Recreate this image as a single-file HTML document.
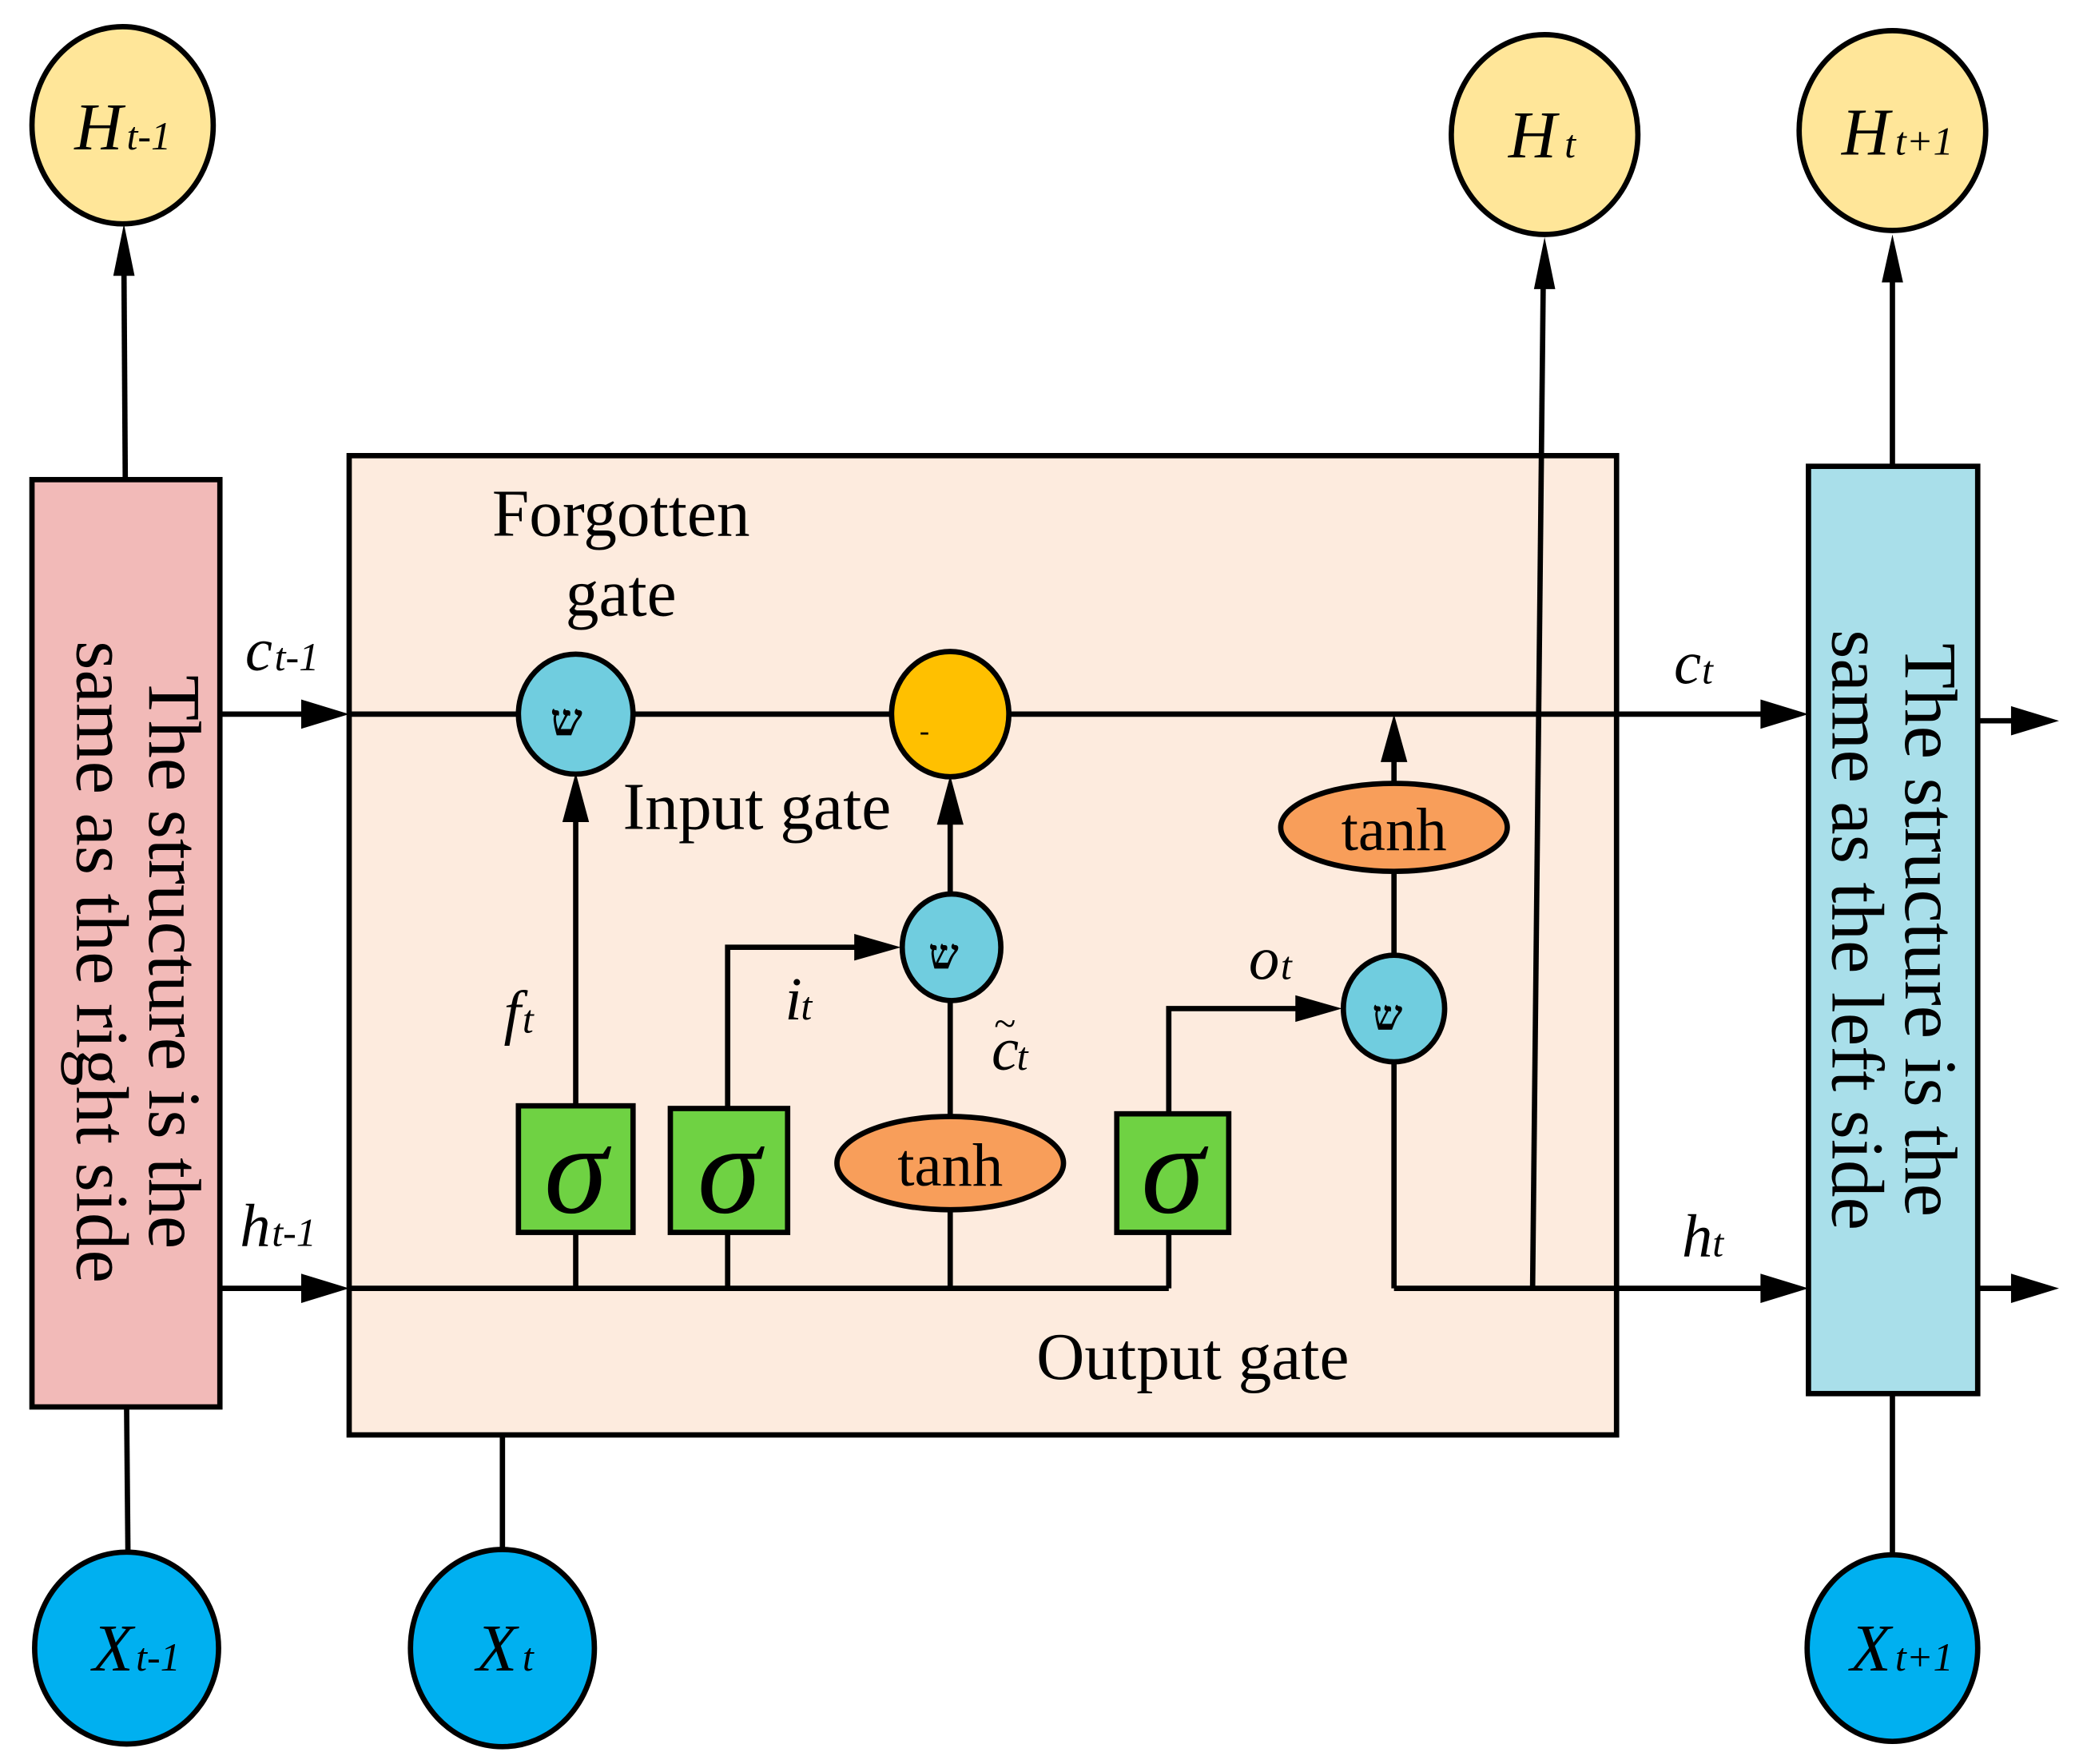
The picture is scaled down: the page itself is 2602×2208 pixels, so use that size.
<!DOCTYPE html>
<html><head><meta charset="utf-8"><style>
html,body{margin:0;padding:0;background:#fff;}
svg{display:block;}
text{font-family:"Liberation Serif",serif;fill:#000;}
.i{font-style:italic;}
</style></head><body>
<svg width="2602" height="2208" viewBox="0 0 1560 1324" preserveAspectRatio="none" xmlns="http://www.w3.org/2000/svg">
<g stroke="#000" stroke-width="4" fill="none">
<rect x="262" y="342" width="951" height="735" fill="#FDEBDE"/>
<rect x="24" y="360" width="141" height="696" fill="#F2BAB8"/>
<rect x="1357" y="350" width="127" height="696" fill="#A9DFEA"/>
<line x1="94" y1="360" x2="93" y2="200"/>
<line x1="95" y1="1056" x2="96" y2="1165"/>
<line x1="377" y1="1077" x2="377" y2="1163"/>
<line x1="1420" y1="350" x2="1420" y2="205"/>
<line x1="1420" y1="1046" x2="1420" y2="1170"/>
<line x1="165" y1="536" x2="235" y2="536"/>
<line x1="262" y1="536" x2="1330" y2="536"/>
<line x1="1484" y1="541" x2="1515" y2="541"/>
<line x1="165" y1="967" x2="235" y2="967"/>
<line x1="262" y1="967" x2="877" y2="967"/>
<line x1="1046" y1="967" x2="1330" y2="967"/>
<line x1="1484" y1="967" x2="1515" y2="967"/>
<line x1="432" y1="967" x2="432" y2="612"/>
<polyline points="546,967 546,711 650,711"/>
<line x1="713" y1="967" x2="713" y2="612"/>
<polyline points="877,967 877,757 980,757"/>
<polyline points="1046,797 1046,967"/>
<line x1="1046" y1="717" x2="1046" y2="565"/>
<line x1="1150" y1="967" x2="1158" y2="210"/>
<ellipse cx="92" cy="94" rx="68" ry="74" fill="#FFE699"/>
<ellipse cx="1159" cy="101" rx="70" ry="75" fill="#FFE699"/>
<ellipse cx="1420" cy="98" rx="70" ry="75" fill="#FFE699"/>
<ellipse cx="95" cy="1237" rx="69" ry="72" fill="#00B0F0"/>
<ellipse cx="377" cy="1237" rx="69" ry="74" fill="#00B0F0"/>
<ellipse cx="1420" cy="1237" rx="64" ry="70" fill="#00B0F0"/>
<ellipse cx="432" cy="536" rx="43" ry="45" fill="#70CDDF"/>
<ellipse cx="713" cy="536" rx="44" ry="47" fill="#FFC000"/>
<ellipse cx="714" cy="711" rx="37" ry="40" fill="#70CDDF"/>
<ellipse cx="1046" cy="757" rx="38" ry="40" fill="#70CDDF"/>
<ellipse cx="1046" cy="621" rx="85" ry="33" fill="#F89E5A"/>
<ellipse cx="713" cy="873" rx="85" ry="35" fill="#F89E5A"/>
<rect x="389" y="830" width="86" height="95" fill="#6FD243"/>
<rect x="503" y="832" width="88" height="93" fill="#6FD243"/>
<rect x="838" y="836" width="84" height="89" fill="#6FD243"/>
</g>
<g fill="#000">
<polygon points="93,168 85,207 101,207"/>
<polygon points="1159,178 1151,217 1167,217"/>
<polygon points="1420,176 1412,212 1428,212"/>
<polygon points="262,536 226,525 226,547"/>
<polygon points="262,967 226,956 226,978"/>
<polygon points="1357,536 1321,525 1321,547"/>
<polygon points="1357,967 1321,956 1321,978"/>
<polygon points="1545,541 1509,530 1509,552"/>
<polygon points="1545,967 1509,956 1509,978"/>
<polygon points="432,580 422,617 442,617"/>
<polygon points="713,582 703,619 723,619"/>
<polygon points="676,711 641,701 641,721"/>
<polygon points="1007,757 972,747 972,767"/>
<polygon points="1046,536 1036,572 1056,572"/>
</g>
<text x="92" y="112" font-size="50" text-anchor="end" class="i">H</text>
<text x="95" y="112" font-size="30" class="i">t-1</text>
<text x="1168" y="118" font-size="50" text-anchor="end" class="i">H</text>
<text x="1174" y="118" font-size="30" class="i">t</text>
<text x="1418" y="116" font-size="50" text-anchor="end" class="i">H</text>
<text x="1422" y="116" font-size="30" class="i">t+1</text>
<text x="100" y="1254" font-size="50" text-anchor="end" class="i">X</text>
<text x="102" y="1254" font-size="30" class="i">t-1</text>
<text x="388" y="1254" font-size="50" text-anchor="end" class="i">X</text>
<text x="392" y="1254" font-size="30" class="i">t</text>
<text x="1419" y="1254" font-size="50" text-anchor="end" class="i">X</text>
<text x="1422" y="1254" font-size="30" class="i">t+1</text>
<text x="466" y="402" font-size="50" text-anchor="middle">Forgotten</text>
<text x="466" y="462" font-size="50" text-anchor="middle">gate</text>
<text x="568" y="622" font-size="50" text-anchor="middle">Input gate</text>
<text x="895" y="1035" font-size="50" text-anchor="middle">Output gate</text>
<text x="1046" y="638" font-size="46" text-anchor="middle">tanh</text>
<text x="713" y="890" font-size="46" text-anchor="middle">tanh</text>
<text x="432" y="910" font-size="96" text-anchor="middle" class="i">σ</text>
<text x="547" y="910" font-size="96" text-anchor="middle" class="i">σ</text>
<text x="880" y="910" font-size="96" text-anchor="middle" class="i">σ</text>
<text x="425" y="552" font-size="34" text-anchor="middle" font-weight="bold">ש</text>
<text x="708" y="727" font-size="32" text-anchor="middle" font-weight="bold">ש</text>
<text x="1041" y="773" font-size="32" text-anchor="middle" font-weight="bold">ש</text>
<text x="690" y="556" font-size="22">-</text>
<text x="184" y="503" font-size="46" class="i">c</text><text x="206" y="503" font-size="30" class="i">t-1</text>
<text x="180" y="935" font-size="46" class="i">h</text><text x="204" y="935" font-size="30" class="i">t-1</text>
<text x="1256" y="513" font-size="46" class="i">c</text><text x="1277" y="513" font-size="30" class="i">t</text>
<text x="1262" y="943" font-size="46" class="i">h</text><text x="1285" y="943" font-size="30" class="i">t</text>
<text x="378" y="775" font-size="46" class="i">f</text><text x="392" y="775" font-size="30" class="i">t</text>
<text x="589" y="765" font-size="46" class="i">i</text><text x="601" y="765" font-size="30" class="i">t</text>
<text x="937" y="735" font-size="46" class="i">o</text><text x="961" y="735" font-size="30" class="i">t</text>
<text x="744" y="803" font-size="46" class="i">c</text><text x="746" y="778" font-size="30">~</text><text x="763" y="803" font-size="30" class="i">t</text>
<text transform="translate(112,722) rotate(90)" font-size="56" text-anchor="middle">The structure is the</text>
<text transform="translate(58,722) rotate(90)" font-size="56" text-anchor="middle">same as the right side</text>
<text transform="translate(1430,698) rotate(90)" font-size="56" text-anchor="middle">The structure is the</text>
<text transform="translate(1375,698) rotate(90)" font-size="56" text-anchor="middle">same as the left side</text>
</svg>
</body></html>
